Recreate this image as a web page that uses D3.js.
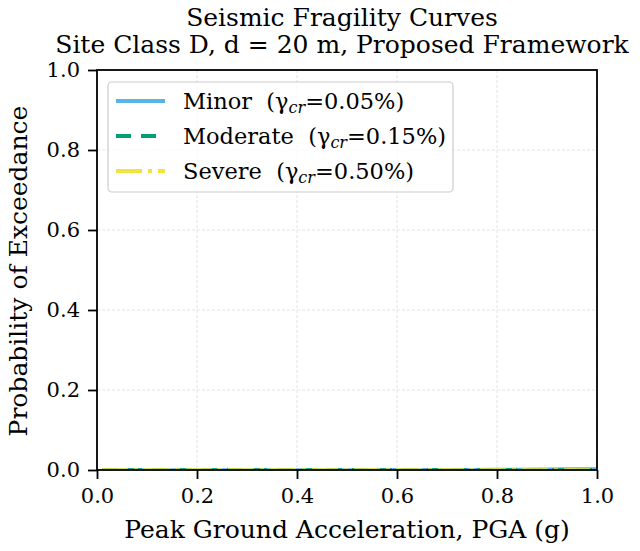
<!DOCTYPE html>
<html>
<head>
<meta charset="utf-8">
<script src="https://cdn.jsdelivr.net/npm/d3@7"></script>
<style>
  body { margin: 0; background: #fff; }
  svg { display: block; }
  text { font-family: "DejaVu Serif", serif; fill: #000; }
</style>
</head>
<body>
<svg id="chart" width="640" height="551"></svg>
<script>
// Peak ground acceleration samples (g)
const pga = [0.01, 0.05, 0.1, 0.15, 0.2, 0.25, 0.3, 0.35, 0.4, 0.45, 0.5, 0.55, 0.6, 0.65, 0.7, 0.75, 0.8, 0.85, 0.9, 0.95, 1.0];
// Probability of exceedance for each damage state
const minorP    = [0.0005, 0.0005, 0.0005, 0.0005, 0.0005, 0.0005, 0.0005, 0.0005, 0.0005, 0.0005, 0.0006, 0.0006, 0.0007, 0.0008, 0.0009, 0.0011, 0.0014, 0.0018, 0.0022, 0.0026, 0.003];
const moderateP = [0.0003, 0.0003, 0.0003, 0.0003, 0.0003, 0.0003, 0.0003, 0.0003, 0.0003, 0.0003, 0.0003, 0.0003, 0.0003, 0.0003, 0.0003, 0.0003, 0.0003, 0.0004, 0.0004, 0.0004, 0.0005];
const severeP   = [0.0001, 0.0001, 0.0001, 0.0001, 0.0001, 0.0001, 0.0001, 0.0001, 0.0001, 0.0001, 0.0001, 0.0001, 0.0001, 0.0001, 0.0001, 0.0001, 0.0001, 0.0001, 0.0001, 0.0001, 0.0001];

const seriesNames = ["Minor", "Moderate", "Severe"];
const seriesGamma = ["0.05%", "0.15%", "0.50%"];
const xTicks = [0.0, 0.2, 0.4, 0.6, 0.8, 1.0];
const yTicks = [0.0, 0.2, 0.4, 0.6, 0.8, 1.0];

const series = [
  { name: seriesNames[0], gamma: seriesGamma[0], values: minorP,    color: "#56B4E9", dash: null },
  { name: seriesNames[1], gamma: seriesGamma[1], values: moderateP, color: "#009E73", dash: "15,10" },
  { name: seriesNames[2], gamma: seriesGamma[2], values: severeP,   color: "#F0E442", dash: "26,6,4,6" }
];

const svg = d3.select("#chart");
const m = { left: 97, right: 597, top: 70, bottom: 470 };

const x = d3.scaleLinear().domain([0, 1]).range([m.left, m.right]);
const y = d3.scaleLinear().domain([0, 1]).range([m.bottom, m.top]);

// Grid
const grid = svg.append("g");
grid.selectAll(".gx").data(xTicks).join("line")
  .attr("x1", d => x(d)).attr("x2", d => x(d))
  .attr("y1", m.top).attr("y2", m.bottom)
  .attr("stroke", "#b0b0b0").attr("stroke-opacity", 0.35)
  .attr("stroke-width", 1).attr("stroke-dasharray", "3,2");
grid.selectAll(".gy").data(yTicks).join("line")
  .attr("y1", d => y(d)).attr("y2", d => y(d))
  .attr("x1", m.left).attr("x2", m.right)
  .attr("stroke", "#b0b0b0").attr("stroke-opacity", 0.35)
  .attr("stroke-width", 1).attr("stroke-dasharray", "3,2");

// Curves
const line = d3.line().x((d, i) => x(pga[i])).y(d => y(d));
svg.append("clipPath").attr("id", "plotclip").append("rect")
  .attr("x", m.left).attr("y", m.top).attr("width", m.right - m.left).attr("height", m.bottom - m.top);
series.forEach(s => {
  svg.append("path")
    .datum(s.values)
    .attr("d", line)
    .attr("fill", "none")
    .attr("stroke", s.color)
    .attr("stroke-width", 3.2)
    .attr("stroke-dasharray", s.dash)
    .attr("clip-path", "url(#plotclip)");
});

// Axes
const xAxis = d3.axisBottom(x).tickValues(xTicks).tickFormat(d3.format(".1f")).tickSize(9).tickPadding(9);
const yAxis = d3.axisLeft(y).tickValues(yTicks).tickFormat(d3.format(".1f")).tickSize(9).tickPadding(8);

const gx = svg.append("g").attr("transform", `translate(0,${m.bottom})`).call(xAxis);
const gy = svg.append("g").attr("transform", `translate(${m.left},0)`).call(yAxis);
[gx, gy].forEach(g => {
  g.select(".domain").remove();
  g.selectAll(".tick line").attr("stroke", "#000").attr("stroke-width", 1.8);
  g.selectAll("text").style("font-family", "DejaVu Serif").attr("font-size", 21).attr("fill", "#000");
});

// Frame
svg.append("rect")
  .attr("x", m.left).attr("y", m.top)
  .attr("width", m.right - m.left).attr("height", m.bottom - m.top)
  .attr("fill", "none").attr("stroke", "#000").attr("stroke-width", 1.8);

// Titles
svg.append("text").attr("x", 342).attr("y", 26).attr("text-anchor", "middle")
  .attr("font-size", 25).text("Seismic Fragility Curves");
svg.append("text").attr("x", 342).attr("y", 53).attr("text-anchor", "middle")
  .attr("font-size", 25).text("Site Class D, d = 20 m, Proposed Framework");

svg.append("text").attr("x", 347).attr("y", 538).attr("text-anchor", "middle")
  .attr("font-size", 25).text("Peak Ground Acceleration, PGA (g)");
svg.append("text").attr("transform", "translate(27,271) rotate(-90)").attr("text-anchor", "middle")
  .attr("font-size", 25).text("Probability of Exceedance");

// Legend
const lg = svg.append("g");
lg.append("rect").attr("x", 108).attr("y", 82).attr("width", 345).attr("height", 110)
  .attr("rx", 4).attr("fill", "#fff").attr("fill-opacity", 0.8)
  .attr("stroke", "#cccccc").attr("stroke-width", 1.2);
series.forEach((s, i) => {
  const yy = 101 + i * 35;
  lg.append("line").attr("x1", 116).attr("x2", 165).attr("y1", yy).attr("y2", yy)
    .attr("stroke", s.color).attr("stroke-width", 3.8).attr("stroke-dasharray", s.dash);
  const t = lg.append("text").attr("x", 183).attr("y", yy + 8).attr("font-size", 22.5)
    .attr("xml:space", "preserve").style("white-space", "pre");
  t.append("tspan").text(s.name + "  (\u03b3");
  t.append("tspan").attr("font-size", 16).attr("font-style", "italic").attr("dy", 4).text("cr");
  t.append("tspan").attr("dy", -4).text("=" + s.gamma + ")");
});
</script>
</body>
</html>
